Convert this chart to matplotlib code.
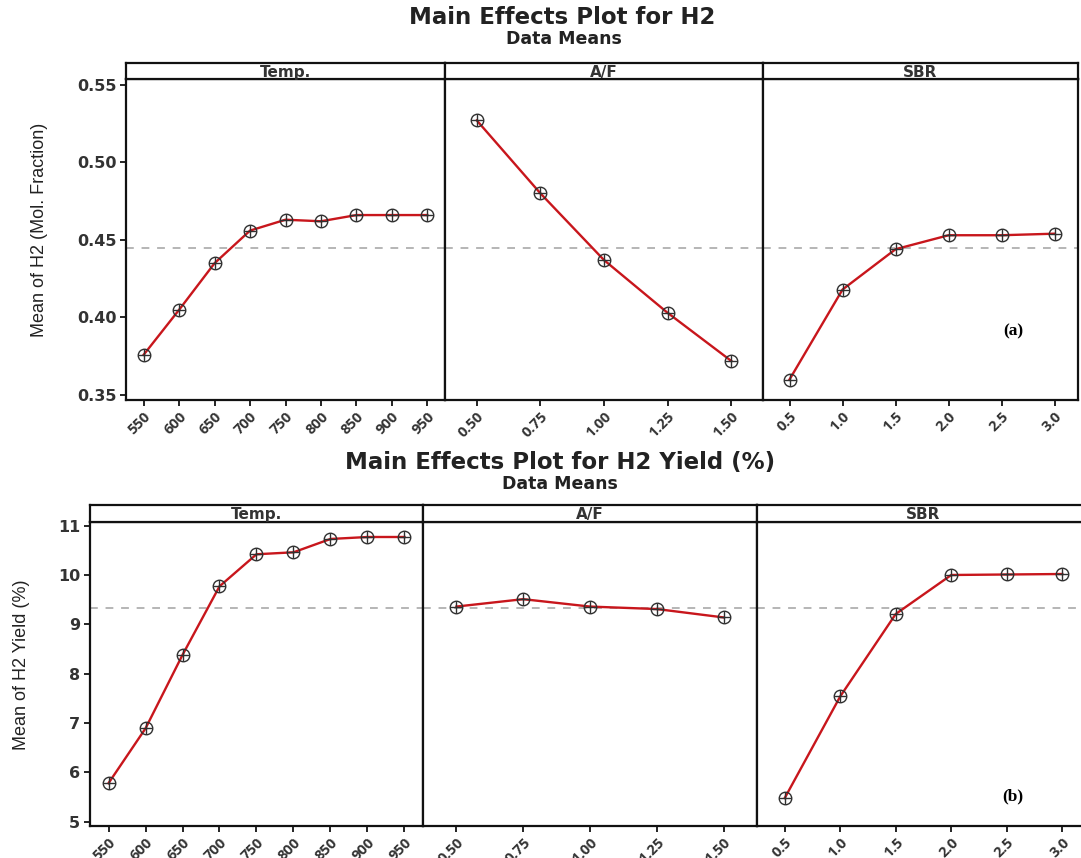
import matplotlib
matplotlib.use('Agg')
import matplotlib.pyplot as plt

# factor levels
temps = [550, 600, 650, 700, 750, 800, 850, 900, 950]
af = [0.50, 0.75, 1.00, 1.25, 1.50]
sbr = [0.5, 1.0, 1.5, 2.0, 2.5, 3.0]
temp_labels = ['550', '600', '650', '700', '750', '800', '850', '900', '950']
af_labels = ['0.50', '0.75', '1.00', '1.25', '1.50']
sbr_labels = ['0.5', '1.0', '1.5', '2.0', '2.5', '3.0']
panel_names = ['Temp.', 'A/F', 'SBR']

# mean H2 mole fraction per level
h2_temp = [0.376, 0.405, 0.435, 0.456, 0.463, 0.462, 0.466, 0.466, 0.466]
h2_af = [0.527, 0.480, 0.437, 0.403, 0.372]
h2_sbr = [0.360, 0.418, 0.444, 0.453, 0.453, 0.454]
h2_mean = 0.4445
h2_ticks = [0.35, 0.40, 0.45, 0.50, 0.55]
h2_ticklabels = ['0.35', '0.40', '0.45', '0.50', '0.55']

# mean H2 yield (%) per level
yield_temp = [5.78, 6.89, 8.38, 9.77, 10.42, 10.46, 10.73, 10.77, 10.77]
yield_af = [9.36, 9.51, 9.36, 9.31, 9.14]
yield_sbr = [5.48, 7.54, 9.21, 10.00, 10.01, 10.02]
yield_mean = 9.34
yield_ticks = [5, 6, 7, 8, 9, 10, 11]
yield_ticklabels = ['5', '6', '7', '8', '9', '10', '11']

W, H = 1081, 858
fig = plt.figure(figsize=(W / 100, H / 100), dpi=100)
fig.patch.set_facecolor('white')

wide = ['DejaVu Sans']
sans = ['Open Sans', 'DejaVu Sans']
narrow = ['Liberation Sans Narrow', 'Liberation Sans', 'DejaVu Sans']
serif = ['Liberation Serif', 'DejaVu Serif']


def box(x0, y0, x1, y1):
    # pixel box -> figure fraction
    return [x0 / W, 1 - y1 / H, (x1 - x0) / W, (y1 - y0) / H]


def panel(rect, strip_rect, x, y, xlim, labels, ylim, mean, name, yticks=None, ylabels=None):
    ax = fig.add_axes(box(*rect))
    ax.axhline(mean, color='#b5b5b5', lw=1.4, ls=(0, (4, 4)), zorder=1)
    ax.plot(x, y, color='#c8161c', lw=1.7, zorder=2)
    ax.plot(x, y, 'o', ms=9, mfc='none', mec='#303030', mew=1.0, zorder=3)
    ax.plot(x, y, '+', ms=9, mec='#303030', mew=1.0, zorder=3)
    ax.set_xlim(xlim)
    ax.set_ylim(ylim)
    ax.set_xticks(x)
    ax.set_xticklabels(labels, rotation=45, ha='right', rotation_mode='anchor',
                       fontsize=10.5, fontweight='bold', family=sans, color='#333333')
    if yticks is not None:
        ax.set_yticks(yticks)
        ax.set_yticklabels(ylabels, fontsize=11.5, fontweight='bold', family=wide,
                           color='#333333')
        ax.tick_params(axis='y', direction='out', length=4, width=1.2, pad=3)
    else:
        ax.set_yticks([])
    ax.tick_params(axis='x', direction='out', length=4, width=1.2, pad=3)
    for s in ax.spines.values():
        s.set_linewidth(1.6)
        s.set_color('#111111')

    st = fig.add_axes(box(*strip_rect))
    st.set_xticks([])
    st.set_yticks([])
    for s in st.spines.values():
        s.set_linewidth(1.6)
        s.set_color('#111111')
    st.text(0.5, 0.42, name, ha='center', va='center', fontsize=11,
            fontweight='bold', family=wide, color='#333333', transform=st.transAxes)
    return ax


levels = [temps, af, sbr]
tick_labels = [temp_labels, af_labels, sbr_labels]

# top row: H2 mole fraction
top_x = [(126, 445), (445, 763), (763, 1078)]
top_data = [h2_temp, h2_af, h2_sbr]
top_xlims = [(525, 975), (0.375, 1.625), (0.25, 3.22)]
for i in range(3):
    x0, x1 = top_x[i]
    if i == 0:
        panel((x0, 79, x1, 400), (x0, 63, x1, 79), levels[i], top_data[i], top_xlims[i],
              tick_labels[i], (0.3468, 0.5537), h2_mean, panel_names[i], h2_ticks, h2_ticklabels)
    else:
        panel((x0, 79, x1, 400), (x0, 63, x1, 79), levels[i], top_data[i], top_xlims[i],
              tick_labels[i], (0.3468, 0.5537), h2_mean, panel_names[i])

# bottom row: H2 yield
bot_x = [(90, 423), (423, 757), (757, 1090)]
bot_data = [yield_temp, yield_af, yield_sbr]
bot_xlims = [(525, 975), (0.375, 1.625), (0.25, 3.25)]
for i in range(3):
    x0, x1 = bot_x[i]
    if i == 0:
        panel((x0, 521.7, x1, 826), (x0, 505, x1, 521.7), levels[i], bot_data[i], bot_xlims[i],
              tick_labels[i], (4.913, 11.08), yield_mean, panel_names[i], yield_ticks,
              yield_ticklabels)
    else:
        panel((x0, 521.7, x1, 826), (x0, 505, x1, 521.7), levels[i], bot_data[i], bot_xlims[i],
              tick_labels[i], (4.913, 11.08), yield_mean, panel_names[i])

fig.text(562 / W, 1 - 18 / H, 'Main Effects Plot for H2', ha='center', va='center',
         fontsize=16.5, fontweight='bold', family=wide, color='#222222')
fig.text(564 / W, 1 - 39 / H, 'Data Means', ha='center', va='center',
         fontsize=12.5, fontweight='bold', family=wide, color='#222222')
fig.text(560 / W, 1 - 462 / H, 'Main Effects Plot for H2 Yield (%)', ha='center', va='center',
         fontsize=16.5, fontweight='bold', family=wide, color='#222222')
fig.text(560 / W, 1 - 484 / H, 'Data Means', ha='center', va='center',
         fontsize=12.5, fontweight='bold', family=wide, color='#222222')

fig.text(40 / W, 1 - 230 / H, 'Mean of H2 (Mol. Fraction)', rotation=90, ha='center',
         va='center', fontsize=13, family=narrow, color='#222222')
fig.text(22 / W, 1 - 665 / H, 'Mean of H2 Yield (%)', rotation=90, ha='center',
         va='center', fontsize=13, family=narrow, color='#222222')

fig.text(1013 / W, 1 - 331 / H, '(a)', ha='center', va='center', fontsize=12.5,
         fontweight='bold', family=serif, color='black')
fig.text(1013 / W, 1 - 796 / H, '(b)', ha='center', va='center', fontsize=12.5,
         fontweight='bold', family=serif, color='black')

fig.savefig('out.png', dpi=100)
